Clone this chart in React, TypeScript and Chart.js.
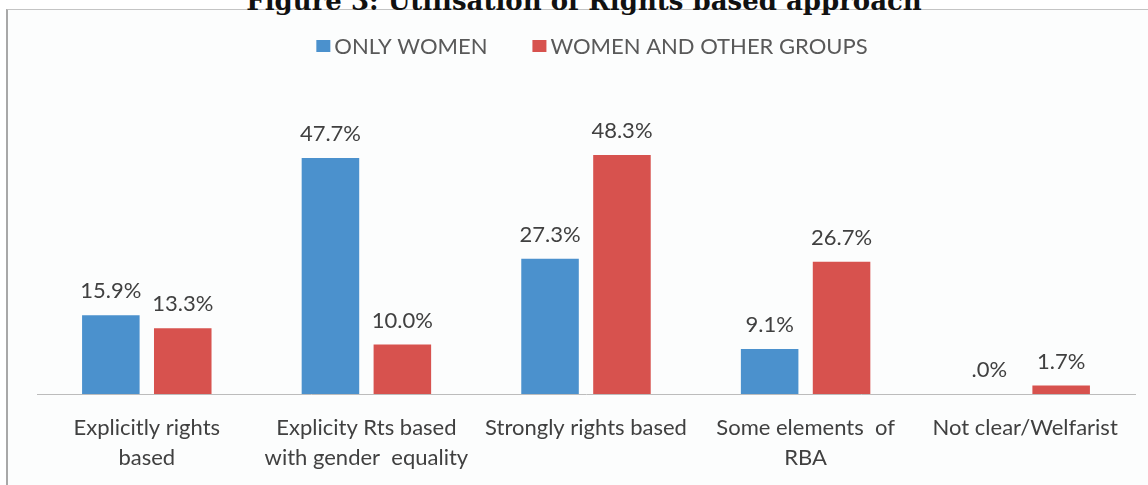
import React, { useEffect, useRef } from "react";
import { Chart, registerables } from "chart.js";

Chart.register(...registerables);

const categories: string[][] = [
  ["Explicitly rights", "based"],
  ["Explicity Rts based", "with gender  equality"],
  ["Strongly rights based"],
  ["Some elements  of", "RBA"],
  ["Not clear/Welfarist"],
];
const onlyWomen: number[] = [15.9, 47.7, 27.3, 9.1, 0];
const womenAndOthers: number[] = [13.3, 10.0, 48.3, 26.7, 1.7];
const seriesNames: string[] = ["ONLY WOMEN", "WOMEN AND OTHER GROUPS"];
const titleText = "Figure 3: Utilisation of Rights based approach";

const fmt = (v: number) => (v === 0 ? ".0%" : v.toFixed(1) + "%");

const valueLabels = {
  id: "valueLabels",
  afterDatasetsDraw(chart: any) {
    const ctx = chart.ctx;
    ctx.save();
    ctx.font = "22px Lato";
    ctx.fillStyle = "#404040";
    ctx.textAlign = "center";
    ctx.textBaseline = "middle";
    chart.data.datasets.forEach((ds: any, di: number) => {
      const meta = chart.getDatasetMeta(di);
      meta.data.forEach((bar: any, i: number) => {
        ctx.fillText(fmt(ds.data[i]), bar.x, bar.y - 24);
      });
    });
    ctx.restore();
  },
};

const customLegend = {
  id: "customLegend",
  afterDraw(chart: any) {
    const ctx = chart.ctx;
    ctx.save();
    ctx.font = "22px Lato";
    ctx.textBaseline = "middle";
    ctx.textAlign = "left";
    const boxW = 14;
    const boxH = 12;
    const gapBoxText = 4;
    const gapItems = 45;
    const items = chart.data.datasets.map((ds: any) => ({
      label: ds.label,
      color: ds.backgroundColor,
      w: ctx.measureText(ds.label).width,
    }));
    let total = 0;
    items.forEach((it: any, i: number) => {
      total += boxW + gapBoxText + it.w + (i > 0 ? gapItems : 0);
    });
    let x = 582 - total / 2;
    const cy = 35;
    items.forEach((it: any) => {
      ctx.fillStyle = it.color;
      ctx.fillRect(x, cy - boxH / 2, boxW, boxH);
      x += boxW + gapBoxText;
      ctx.fillStyle = "#595959";
      ctx.fillText(it.label, x, cy + 1);
      x += it.w + gapItems;
    });
    ctx.restore();
  },
};

export default function App() {
  const ref = useRef<HTMLCanvasElement>(null);
  useEffect(() => {
    if (!ref.current) return;
    const chart = new Chart(ref.current, {
      type: "bar",
      data: {
        labels: categories,
        datasets: [
          {
            label: seriesNames[0],
            data: onlyWomen,
            backgroundColor: "#4b91cd",
            categoryPercentage: 0.655,
            barPercentage: 0.8,
          },
          {
            label: seriesNames[1],
            data: womenAndOthers,
            backgroundColor: "#d7524e",
            categoryPercentage: 0.655,
            barPercentage: 0.8,
          },
        ],
      },
      options: {
        animation: false,
        responsive: false,
        maintainAspectRatio: false,
        layout: { padding: { top: 86, left: 27, right: 13, bottom: 12 } },
        plugins: {
          legend: { display: false },
          tooltip: { enabled: false },
        },
        scales: {
          x: {
            grid: { display: false, drawTicks: false },
            border: { display: true, color: "#bcbcbc", width: 1 },
            ticks: {
              color: "#404040",
              font: { family: "Lato", size: 22, lineHeight: "30px" },
              padding: 19,
              maxRotation: 0,
              autoSkip: false,
            },
          },
          y: {
            display: false,
            min: 0,
            max: 60,
          },
        },
      },
      plugins: [valueLabels, customLegend],
    });
    return () => chart.destroy();
  }, []);

  return (
    <div
      style={{
        position: "absolute",
        left: 0,
        top: 0,
        width: 1148,
        height: 485,
        overflow: "hidden",
        background: "#ffffff",
      }}
    >
      <div
        style={{
          position: "absolute",
          left: 6,
          top: 9,
          width: 1160,
          height: 490,
          borderLeft: "2px solid #a8a8a8",
          borderTop: "1px solid #c4c4c4",
          background: "#fcfdfd",
        }}
      />
      <div
        style={{
          position: "absolute",
          left: 0,
          width: 1168,
          top: -13,
          textAlign: "center",
          fontFamily: "'DejaVu Serif', serif",
          fontWeight: "bold",
          fontSize: 26,
          lineHeight: "28px",
          color: "#111",
          whiteSpace: "nowrap",
        }}
      >
        {titleText}
      </div>
      <canvas
        ref={ref}
        width={1138}
        height={493}
        style={{ position: "absolute", left: 10, top: 11, width: 1138, height: 493 }}
      />
    </div>
  );
}
